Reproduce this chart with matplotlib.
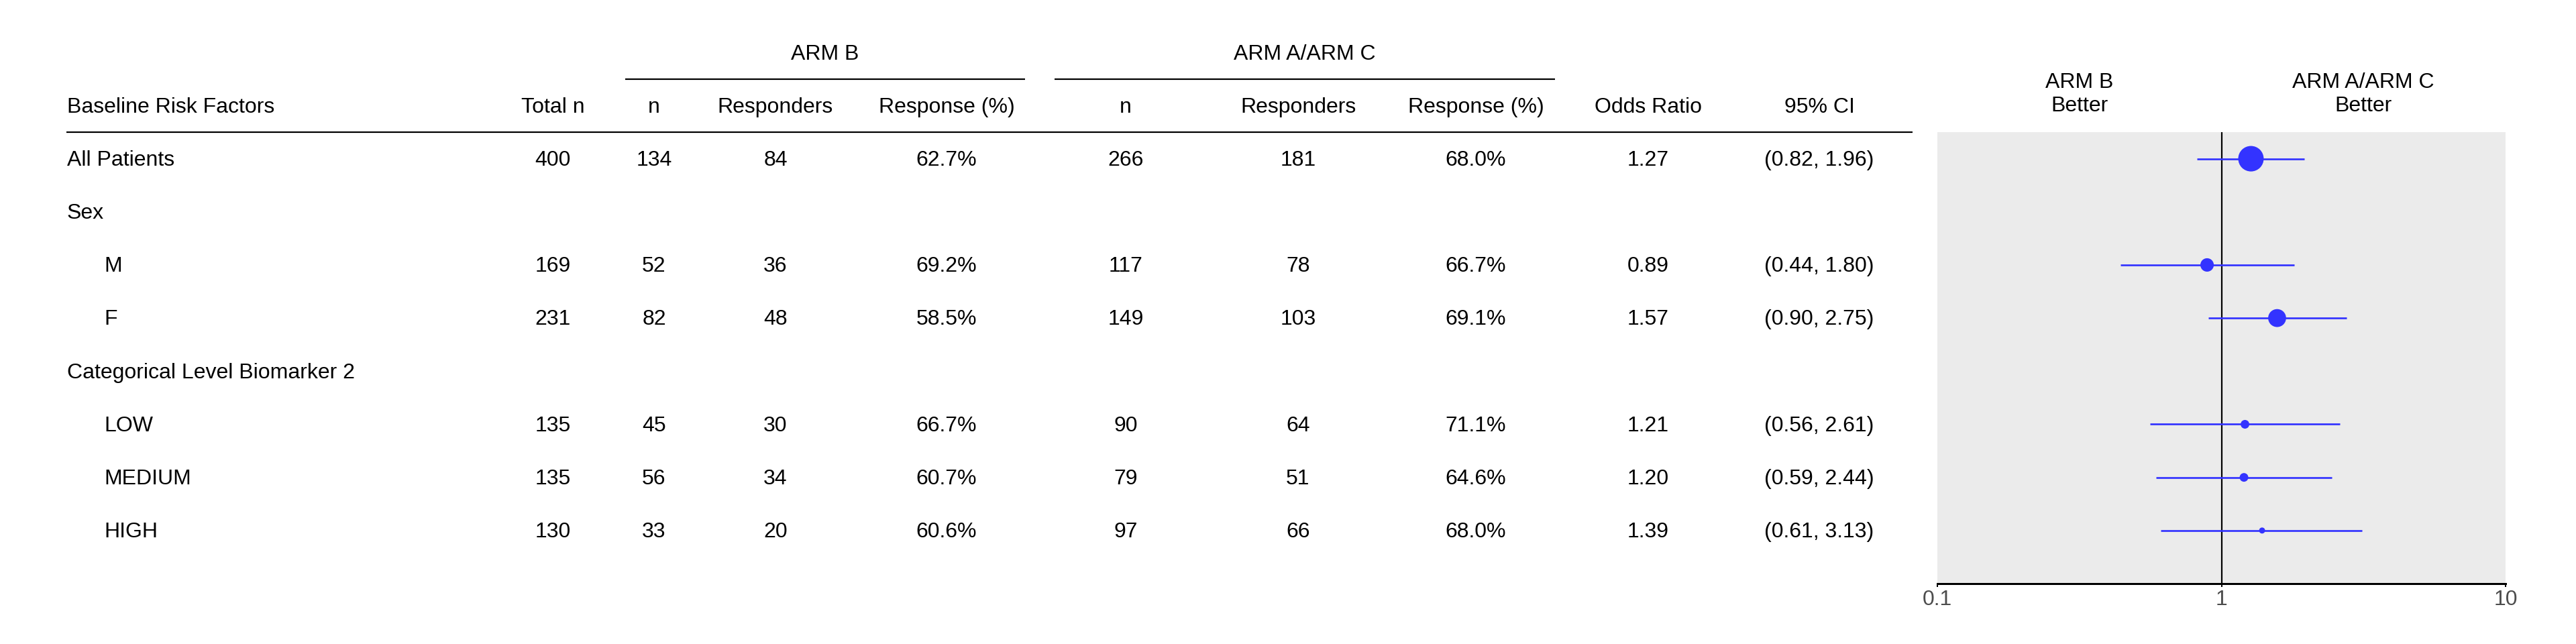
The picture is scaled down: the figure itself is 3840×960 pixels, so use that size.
import numpy as np
import matplotlib.pyplot as plt

plt.rcParams['font.family'] = ['Liberation Sans', 'DejaVu Sans']

# %% data
labels = ['All Patients', 'Sex', 'M', 'F', 'Categorical Level Biomarker 2', 'LOW', 'MEDIUM', 'HIGH']
indent = [False, False, True, True, False, True, True, True]
total_n = [400, None, 169, 231, None, 135, 135, 130]
armb_n = [134, None, 52, 82, None, 45, 56, 33]
armb_resp = [84, None, 36, 48, None, 30, 34, 20]
armb_pct = [62.7, None, 69.2, 58.5, None, 66.7, 60.7, 60.6]
armac_n = [266, None, 117, 149, None, 90, 79, 97]
armac_resp = [181, None, 78, 103, None, 64, 51, 66]
armac_pct = [68.0, None, 66.7, 69.1, None, 71.1, 64.6, 68.0]
odds_ratio = [1.27, None, 0.89, 1.57, None, 1.21, 1.20, 1.39]
ci_low = [0.82, None, 0.44, 0.90, None, 0.56, 0.59, 0.61]
ci_high = [1.96, None, 1.80, 2.75, None, 2.61, 2.44, 3.13]

headers = ['Baseline Risk Factors', 'Total n', 'n', 'Responders', 'Response (%)',
           'n', 'Responders', 'Response (%)', 'Odds Ratio', '95% CI']
span_labels = ['ARM B', 'ARM A/ARM C']
forest_labels = [('ARM B', 'Better'), ('ARM A/ARM C', 'Better')]
xticks = [0.1, 1, 10]

# %% layout (pixels)
W, H = 3840, 960
PX = 0.72  # points per pixel at dpi 100
FS = 32 * PX
DY = 0.03  # small nudge so text sits like the reference
top_px, bot_px = 197, 870
col_x = [100, 824, 975, 1156, 1411, 1678, 1935, 2200, 2457, 2712]
indent_x = 155
blue = '#3333FF'

fig = plt.figure(figsize=(W / 100, H / 100), dpi=100)

tab = fig.add_axes([0, 1 - bot_px / H, 1, (bot_px - top_px) / H])
tab.set_xlim(0, W)
tab.set_ylim(9.0, 0.5)
tab.axis('off')

# header row
for i, h in enumerate(headers):
    tab.text(col_x[i], 0 + DY, h, ha='left' if i == 0 else 'center', va='center',
             fontsize=FS, clip_on=False)
tab.plot([99, 2851], [0.5, 0.5], color='black', lw=2.2 * PX, clip_on=False,
         solid_capstyle='butt')

# spanning headers
for lab, (x0, x1) in zip(span_labels, [(932, 1528), (1572, 2318)]):
    tab.plot([x0, x1], [-0.5, -0.5], color='black', lw=2.2 * PX, clip_on=False,
             solid_capstyle='butt')
    tab.text((x0 + x1) / 2, -1 + DY, lab, ha='center', va='center', fontsize=FS, clip_on=False)

# body rows
for r, lab in enumerate(labels):
    y = r + 1 + DY
    tab.text(indent_x if indent[r] else col_x[0], y, lab, ha='left', va='center', fontsize=FS)
    if total_n[r] is None:
        continue
    vals = [str(total_n[r]), str(armb_n[r]), str(armb_resp[r]), f'{armb_pct[r]:.1f}%',
            str(armac_n[r]), str(armac_resp[r]), f'{armac_pct[r]:.1f}%',
            f'{odds_ratio[r]:.2f}', f'({ci_low[r]:.2f}, {ci_high[r]:.2f})']
    for j, v in enumerate(vals):
        tab.text(col_x[j + 1], y, v, ha='center', va='center', fontsize=FS)

# %% forest panel
ax = fig.add_axes([2888 / W, 1 - bot_px / H, (3735 - 2888) / W, (bot_px - top_px) / H])
ax.set_facecolor('#EBEBEB')
ax.set_xscale('log')
ax.set_xlim(0.1, 10)
ax.set_ylim(9.0, 0.5)
ax.minorticks_off()
ax.set_xticks(xticks)
ax.set_xticklabels([f'{t:g}' for t in xticks])
ax.set_yticks([])
for s in ['top', 'left', 'right']:
    ax.spines[s].set_visible(False)
ax.spines['bottom'].set_linewidth(3 * PX)
ax.tick_params(axis='x', length=5 * PX, width=2 * PX, color='black', labelcolor='#4D4D4D',
               labelsize=FS, pad=3)
ax.axvline(1, color='black', lw=2.2 * PX, zorder=1)

rows = [r + 1 for r in range(len(labels)) if odds_ratio[r] is not None]
orv = [v for v in odds_ratio if v is not None]
lo = [v for v in ci_low if v is not None]
hi = [v for v in ci_high if v is not None]
nn = np.array([v for v in total_n if v is not None], dtype=float)
# size scale by total n (area scale, 9-38 px diameter)
diam = 9 + (38 - 9) * np.sqrt((nn - nn.min()) / (nn.max() - nn.min()))
ax.hlines(rows, lo, hi, color=blue, lw=2.7 * PX, zorder=2)
ax.scatter(orv, rows, s=(diam * PX) ** 2, color=blue, linewidths=0, zorder=3)

for (l1, l2), xc in zip(forest_labels, [np.sqrt(0.1 * 1), np.sqrt(1 * 10)]):
    ax.text(xc, -0.46 + DY, l1, ha='center', va='center', fontsize=FS, clip_on=False)
    ax.text(xc, -0.02 + DY, l2, ha='center', va='center', fontsize=FS, clip_on=False)

fig.savefig('out.png', dpi=100, facecolor='white')
